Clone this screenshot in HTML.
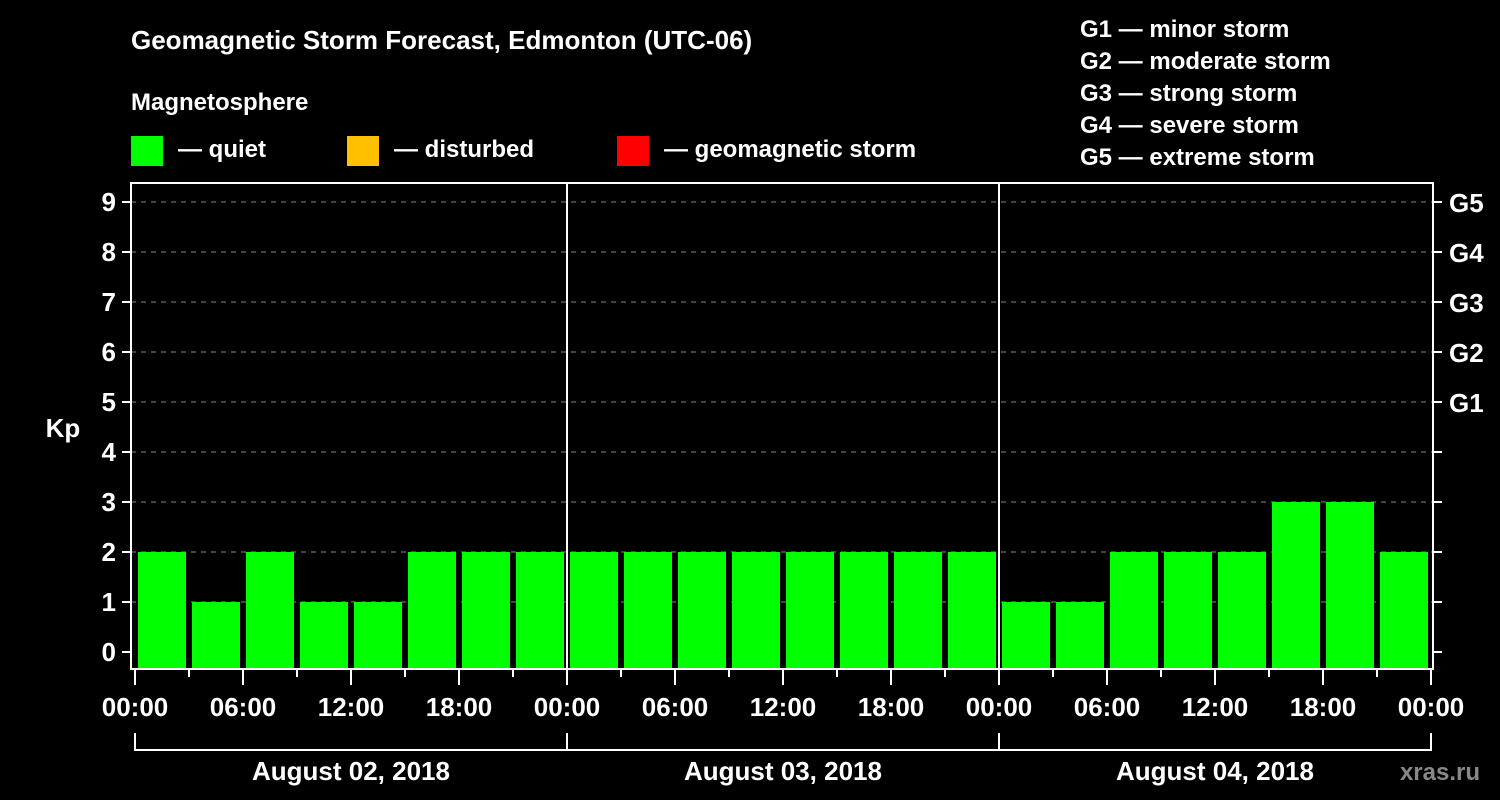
<!DOCTYPE html>
<html><head><meta charset="utf-8"><style>
body{margin:0;background:#000;width:1500px;height:800px;overflow:hidden}
svg{display:block;font-family:"Liberation Sans",Arial,sans-serif;font-weight:bold}
</style></head><body>
<svg id="chart" width="1500" height="800" viewBox="0 0 1500 800">
<rect width="1500" height="800" fill="#000"/>
<text x="131" y="49" fill="#fff" font-size="26">Geomagnetic Storm Forecast, Edmonton (UTC-06)</text>
<text x="131" y="110" fill="#fff" font-size="24">Magnetosphere</text>
<g><rect x="131" y="136" width="32" height="30" fill="#00ff00"/><text x="178" y="157" fill="#fff" font-size="24">— quiet</text></g>
<g><rect x="347" y="136" width="32" height="30" fill="#ffc000"/><text x="394" y="157" fill="#fff" font-size="24">— disturbed</text></g>
<g><rect x="617" y="136" width="32" height="30" fill="#ff0000"/><text x="664" y="157" fill="#fff" font-size="24">— geomagnetic storm</text></g>
<g fill="#fff" font-size="24">
<text x="1080" y="37">G1 — minor storm</text>
<text x="1080" y="69">G2 — moderate storm</text>
<text x="1080" y="101">G3 — strong storm</text>
<text x="1080" y="133">G4 — severe storm</text>
<text x="1080" y="165">G5 — extreme storm</text>
</g>
<text x="63" y="437" fill="#fff" font-size="26" text-anchor="middle">Kp</text>
<g id="grid"></g><g id="bars"></g><g id="axes"></g>
<text x="1480" y="780" fill="#888" font-size="24" text-anchor="end">xras.ru</text>
</svg>
<script>
const days = ["August 02, 2018","August 03, 2018","August 04, 2018"];
const kpValues = [2,1,2,1,1,2,2,2, 2,2,2,2,2,2,2,2, 1,1,2,2,2,3,3,2];
const yTicks = [0,1,2,3,4,5,6,7,8,9];
const gLabels = {5:"G1",6:"G2",7:"G3",8:"G4",9:"G5"};
const hourLabels = ["00:00","06:00","12:00","18:00"];

const NS="http://www.w3.org/2000/svg";
const X0=135, DAYW=432, L=131, R=1433, T=183, B=669;
const xOf = h => X0 + h*DAYW/24;
const yOf = v => 652 - v*50;
function mk(tag, attrs, parent, text){const e=document.createElementNS(NS,tag);for(const k in attrs)e.setAttribute(k,attrs[k]);if(text!==undefined)e.textContent=text;parent.appendChild(e);return e;}
const grid=document.getElementById('grid'), bars=document.getElementById('bars'), axes=document.getElementById('axes');

yTicks.forEach(v=>{
  const y=yOf(v);
  if(v>0){const g=mk('line',{x1:L,x2:R,y1:y,y2:y,stroke:'#888','stroke-dasharray':'5,5','stroke-width':1},grid);
  
  }
  mk('line',{x1:122,x2:L,y1:y,y2:y,stroke:'#fff','stroke-width':2},axes);
  mk('line',{x1:R,x2:1442,y1:y,y2:y,stroke:'#fff','stroke-width':2},axes);
  const t=mk('text',{x:116,y:y+9,fill:'#fff','font-size':26,'text-anchor':'end'},axes,String(v));
  
  
  if(gLabels[v]){const g=mk('text',{x:1449,y:y+10,fill:'#fff','font-size':26},axes,gLabels[v]);
  
  }
});

kpValues.forEach((v,i)=>{
  const x=xOf(i*3)+3, w=xOf(3)-xOf(0)-6;
  const color = v>=5?'#ff0000':(v>=4?'#ffc000':'#00ff00');
  const r=mk('rect',{x:x,y:yOf(v),width:w,height:B-yOf(v),fill:color},bars);
  
  
});

mk('rect',{x:L,y:T,width:R-L,height:B-T,fill:'none',stroke:'#fff','stroke-width':2},axes);
days.forEach((d,di)=>{
  if(di>0) mk('line',{x1:xOf(di*24),x2:xOf(di*24),y1:T,y2:B,stroke:'#fff','stroke-width':2},axes);
  for(let h=0;h<24;h+=3){const x=xOf(di*24+h);mk('line',{x1:x,x2:x,y1:B,y2:h%6===0?685:677,stroke:'#fff','stroke-width':2},axes);}
  hourLabels.forEach((lab,j)=>{const t=mk('text',{x:xOf(di*24+j*6),y:716,fill:'#fff','font-size':26,'text-anchor':'middle'},axes,lab);
    
    });
  const xa=xOf(di*24), xb=xOf(di*24+24);
  mk('path',{d:`M${xa},733V750H${xb}V733`,fill:'none',stroke:'#fff','stroke-width':2},axes);
  const t=mk('text',{x:(xa+xb)/2,y:780,fill:'#fff','font-size':26,'text-anchor':'middle'},axes,d);
  
  
});
mk('line',{x1:xOf(72),x2:xOf(72),y1:B,y2:685,stroke:'#fff','stroke-width':2},axes);
const tl=mk('text',{x:xOf(72),y:716,fill:'#fff','font-size':26,'text-anchor':'middle'},axes,"00:00");


</script>
</body></html>
